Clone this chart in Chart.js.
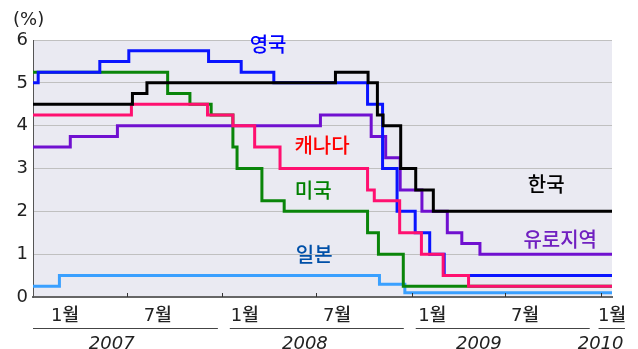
<!DOCTYPE html>
<html>
<head>
<meta charset="utf-8">
<script src="https://cdn.jsdelivr.net/npm/chart.js@4/dist/chart.umd.min.js"></script>
<style>
html, body { margin: 0; padding: 0; background: #fff; }
#wrap { width: 638px; height: 349px; }
</style>
</head>
<body>
<div id="wrap"><canvas id="myChart"></canvas></div>
<script>
// 정책금리 (%), 변경일 기준
const korDates = ['2007-01-01','2007-07-12','2007-08-09','2008-08-07','2008-10-09','2008-10-27','2008-11-07','2008-12-11','2009-01-09','2009-02-12'];
const korRates = [4.5, 4.75, 5.0, 5.25, 5.0, 4.25, 4.0, 3.0, 2.5, 2.0];

const canDates = ['2007-01-01','2007-07-10','2007-12-04','2008-01-22','2008-03-04','2008-04-22','2008-10-08','2008-10-21','2008-12-09','2009-01-20','2009-03-03','2009-04-21'];
const canRates = [4.25, 4.5, 4.25, 4.0, 3.5, 3.0, 2.5, 2.25, 1.5, 1.0, 0.5, 0.25];

const ukDates = ['2007-01-01','2007-01-11','2007-05-10','2007-07-05','2007-12-06','2008-02-07','2008-04-10','2008-10-08','2008-11-06','2008-12-04','2009-01-08','2009-02-05','2009-03-05'];
const ukRates = [5.0, 5.25, 5.5, 5.75, 5.5, 5.25, 5.0, 4.5, 3.0, 2.0, 1.5, 1.0, 0.5];

const euDates = ['2007-01-01','2007-03-14','2007-06-13','2008-07-09','2008-10-15','2008-11-12','2008-12-10','2009-01-21','2009-03-11','2009-04-08','2009-05-13'];
const euRates = [3.5, 3.75, 4.0, 4.25, 3.75, 3.25, 2.5, 2.0, 1.5, 1.25, 1.0];

const usDates = ['2007-01-01','2007-09-18','2007-10-31','2007-12-11','2008-01-22','2008-01-30','2008-03-18','2008-04-30','2008-10-08','2008-10-29','2008-12-16'];
const usRates = [5.25, 4.75, 4.5, 4.25, 3.5, 3.0, 2.25, 2.0, 1.5, 1.0, 0.25];

const jpDates = ['2007-01-01','2007-02-21','2008-10-31','2008-12-19'];
const jpRates = [0.25, 0.5, 0.3, 0.1];

const monthLabels = ['1월','7월','1월','7월','1월','7월','1월'];
const yearLabels = ['2007','2008','2009','2010'];
const yTicks = [0, 1, 2, 3, 4, 5, 6];

const endDay = 1118;
const fontFam = '"DejaVu Sans", "Noto Sans CJK KR", sans-serif';

function toDay(s) {
    const p = s.split('-').map(Number);
    return (Date.UTC(p[0], p[1] - 1, p[2]) - Date.UTC(2007, 0, 1)) / 86400000;
}
function steps(dates, rates) {
    const pts = dates.map((d, i) => ({ x: toDay(d), y: rates[i] }));
    pts.push({ x: endDay, y: rates[rates.length - 1] });
    return pts;
}
function ds(label, dates, rates, color) {
    return {
        label: label,
        data: steps(dates, rates),
        borderColor: color,
        borderWidth: 3,
        stepped: true,
        pointRadius: 0,
        fill: false
    };
}

const bgPlugin = {
    id: 'bg',
    beforeDraw(chart) {
        const a = chart.chartArea, c = chart.ctx;
        c.save();
        c.fillStyle = '#eaeaf2';
        c.fillRect(a.left, a.top, a.right - a.left, a.bottom - a.top);
        c.restore();
    }
};

const textPlugin = {
    id: 'texts',
    afterDraw(chart) {
        const c = chart.ctx, x = chart.scales.x, y = chart.scales.y;
        const bottom = chart.chartArea.bottom;
        c.save();
        // 눈금
        c.strokeStyle = '#333';
        c.lineWidth = 1;
        [181, 365, 547, 731, 912, 1096].forEach(d => {
            const px = Math.round(x.getPixelForValue(d)) + 0.5;
            c.beginPath(); c.moveTo(px, bottom - 4); c.lineTo(px, bottom); c.stroke();
        });
        // 월 라벨
        c.fillStyle = '#222';
        c.font = '500 18px ' + fontFam;
        c.textAlign = 'center';
        c.textBaseline = 'middle';
        [62, 241, 409, 587, 771, 950, 1118].forEach((d, i) => {
            c.fillText(monthLabels[i], x.getPixelForValue(d), 316);
        });
        // 연도 밑줄
        c.strokeStyle = '#444';
        [[0, 357], [380, 716], [739, 1075], [1092, 1143]].forEach(s => {
            c.beginPath();
            c.moveTo(x.getPixelForValue(s[0]), 328.5);
            c.lineTo(x.getPixelForValue(s[1]), 328.5);
            c.stroke();
        });
        c.font = 'italic 18px ' + fontFam;
        c.textBaseline = 'alphabetic';
        [152, 525, 861, 1096].forEach((d, i) => {
            c.fillText(yearLabels[i], x.getPixelForValue(d), 349);
        });
        // 단위
        c.textAlign = 'left';
        c.textBaseline = 'middle';
        c.font = '18px ' + fontFam;
        c.fillText('(%)', 13, 20);
        // 계열 라벨
        c.textAlign = 'center';
        c.font = '500 20px ' + fontFam;
        [
            ['영국', 454, 5.84, '#0000ff'],
            ['캐나다', 558, 3.48, '#ff0000'],
            ['미국', 541, 2.43, '#008000'],
            ['일본', 543, 0.93, '#0050a8'],
            ['한국', 991, 2.57, '#000000'],
            ['유로지역', 1018, 1.28, '#7020c0']
        ].forEach(t => {
            c.fillStyle = t[3];
            c.fillText(t[0], x.getPixelForValue(t[1]), y.getPixelForValue(t[2]));
        });
        c.restore();
    }
};

new Chart(document.getElementById('myChart'), {
    type: 'line',
    data: {
        datasets: [
            ds('한국', korDates, korRates, '#000000'),
            ds('캐나다', canDates, canRates, '#ff1070'),
            ds('영국', ukDates, ukRates, '#0a14ff'),
            ds('유로지역', euDates, euRates, '#7010d0'),
            ds('미국', usDates, usRates, '#0a850a'),
            ds('일본', jpDates, jpRates, '#3aa0ff')
        ]
    },
    options: {
        responsive: true,
        maintainAspectRatio: false,
        animation: false,
        layout: { padding: { top: 40, right: 26, left: 0, bottom: 0 } },
        plugins: { legend: { display: false }, tooltip: { enabled: false } },
        scales: {
            x: {
                type: 'linear',
                min: 0,
                max: endDay,
                ticks: { display: false },
                grid: { display: false },
                border: { color: '#666', width: 2 },
                afterFit: s => { s.height = 52; }
            },
            y: {
                min: 0,
                max: 6,
                afterBuildTicks: s => { s.ticks = yTicks.map(v => ({ value: v })); },
                ticks: { color: '#222', font: { size: 18, family: fontFam }, padding: 5 },
                grid: { color: '#c0c0c0', lineWidth: 1, drawTicks: false },
                border: { color: '#555', width: 1 },
                afterFit: s => { s.width = 33; }
            }
        }
    },
    plugins: [bgPlugin, textPlugin]
});
</script>
</body>
</html>
